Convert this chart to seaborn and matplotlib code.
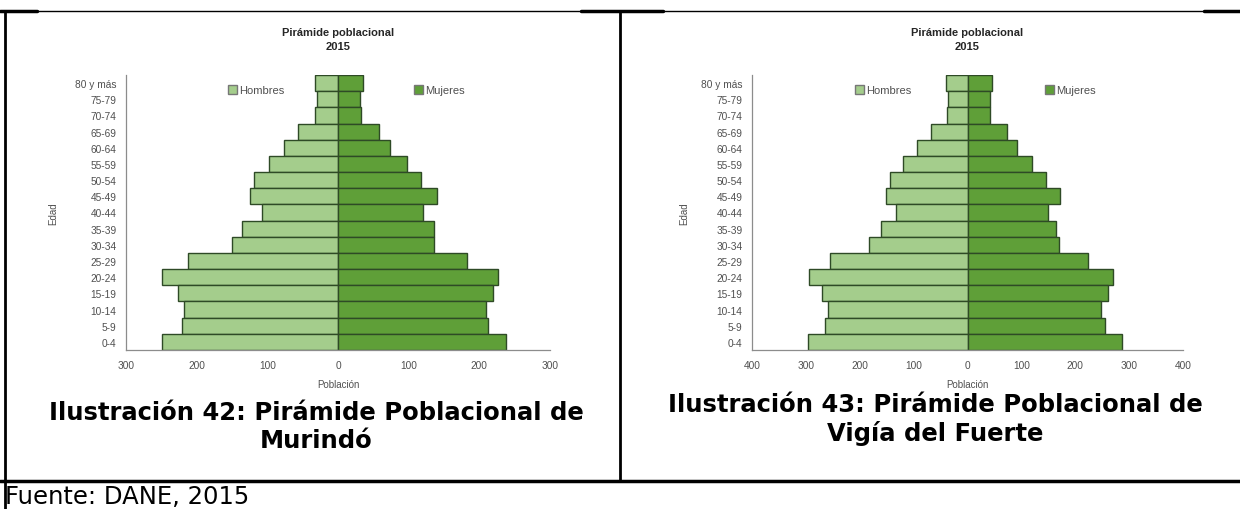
import pandas as pd
import matplotlib.pyplot as plt
import seaborn as sns
from matplotlib import font_manager
from matplotlib.lines import Line2D
from matplotlib.patches import Patch

# age groups, youngest first
EDADES = ["0-4", "5-9", "10-14", "15-19", "20-24", "25-29", "30-34", "35-39",
          "40-44", "45-49", "50-54", "55-59", "60-64", "65-69", "70-74",
          "75-79", "80 y más"]

# Murindó 2015
MURINDO_HOMBRES = [249, 221, 218, 226, 249, 212, 150, 136, 108, 125, 119, 98, 76, 56, 33, 30, 32]
MURINDO_MUJERES = [238, 212, 209, 219, 227, 183, 136, 136, 120, 140, 118, 97, 73, 58, 33, 31, 36]

# Vigía del Fuerte 2015
VIGIA_HOMBRES = [296, 265, 259, 270, 294, 256, 182, 160, 132, 152, 143, 119, 94, 68, 38, 36, 40]
VIGIA_MUJERES = [287, 255, 247, 261, 270, 223, 169, 165, 150, 172, 146, 119, 91, 73, 41, 41, 46]

X_TICKS_MURINDO = [-300, -200, -100, 0, 100, 200, 300]
X_TICKS_VIGIA = [-400, -300, -200, -100, 0, 100, 200, 300, 400]

CAPTION_MURINDO = "Ilustración 42: Pirámide Poblacional de\nMurindó"
CAPTION_VIGIA = "Ilustración 43: Pirámide Poblacional de\nVigía del Fuerte"
FUENTE = "Fuente: DANE, 2015"

C_HOMBRES = "#a4cd8c"
C_MUJERES = "#5f9f38"
C_EDGE = "#2e4a26"
C_TEXT = "#505050"

W, H = 1240, 510


def pick_font(names):
    have = {f.name for f in font_manager.fontManager.ttflist}
    for n in names:
        if n in have:
            return n
    return "DejaVu Sans"


def px(x, y):
    return x / W, 1 - y / H


def pyramid(ax, hombres, mujeres, ticks, font, ylab_x):
    df = pd.DataFrame({
        "Edad": EDADES * 2,
        "Sexo": ["Hombres"] * len(EDADES) + ["Mujeres"] * len(EDADES),
        "Población": [-v for v in hombres] + list(mujeres),
    })
    sns.barplot(data=df, x="Población", y="Edad", hue="Sexo",
                order=EDADES[::-1], dodge=False, width=1.0, saturation=1,
                palette={"Hombres": C_HOMBRES, "Mujeres": C_MUJERES},
                edgecolor=C_EDGE, linewidth=1.0, legend=False, ax=ax)
    ax.set_xlim(ticks[0], ticks[-1])
    ax.set_xticks(ticks)
    ax.set_xticklabels([str(abs(t)) for t in ticks])
    ax.tick_params(length=0, labelsize=7.3, colors=C_TEXT)
    ax.tick_params(axis="x", pad=7)
    ax.tick_params(axis="y", pad=7)
    for lab in ax.get_xticklabels() + ax.get_yticklabels():
        lab.set_fontfamily(font)
    for s in ["top", "right"]:
        ax.spines[s].set_visible(False)
    for s in ["left", "bottom"]:
        ax.spines[s].set_color("#8c8c8c")
        ax.spines[s].set_linewidth(0.9)
    ax.set_xlabel("Población", fontsize=7, color=C_TEXT, family=font, labelpad=7)
    ax.set_ylabel("Edad", fontsize=7, color=C_TEXT, family=font)
    ax.yaxis.set_label_coords(ylab_x, 0.5)
    ax.grid(False)

    leg1 = ax.legend(handles=[Patch(facecolor=C_HOMBRES, edgecolor="#777777", label="Hombres")],
                     loc="center left", bbox_to_anchor=(0.24, 0.945), frameon=False,
                     borderpad=0, borderaxespad=0, handlelength=0.8, handleheight=0.8,
                     handletextpad=0.2, prop={"family": font, "size": 8}, labelcolor=C_TEXT)
    ax.add_artist(leg1)
    ax.legend(handles=[Patch(facecolor=C_MUJERES, edgecolor="#777777", label="Mujeres")],
              loc="center left", bbox_to_anchor=(0.68, 0.945), frameon=False,
              borderpad=0, borderaxespad=0, handlelength=0.8, handleheight=0.8,
              handletextpad=0.2, prop={"family": font, "size": 8}, labelcolor=C_TEXT)


def main():
    sns.set_theme(style="white")
    plt.rcParams["font.family"] = ["DejaVu Sans"]
    narrow = pick_font(["Liberation Sans Narrow", "Liberation Sans"])

    fig = plt.figure(figsize=(W / 100, H / 100), dpi=100)
    fig.patch.set_facecolor("white")

    ax1 = fig.add_axes([126 / W, 1 - 351 / H, 424 / W, 275 / H])
    pyramid(ax1, MURINDO_HOMBRES, MURINDO_MUJERES, X_TICKS_MURINDO, narrow, -0.16)
    ax2 = fig.add_axes([752 / W, 1 - 351 / H, 431 / W, 275 / H])
    pyramid(ax2, VIGIA_HOMBRES, VIGIA_MUJERES, X_TICKS_VIGIA, narrow, -0.146)

    for cx in (338, 967):
        fig.text(*px(cx, 40), "Pirámide poblacional\n2015", ha="center", va="center",
                 fontsize=8, fontweight="bold", family=narrow, color="#262626",
                 linespacing=1.55)

    # captions
    fig.text(*px(316, 427), CAPTION_MURINDO, ha="center", va="center",
             fontsize=17.5, fontweight="bold", linespacing=1.2, color="black")
    fig.text(*px(935, 420), CAPTION_VIGIA, ha="center", va="center",
             fontsize=17.5, fontweight="bold", linespacing=1.2, color="black")
    fig.text(*px(5, 497), FUENTE, ha="left", va="center", fontsize=17.5, color="black")

    # table borders
    lines = [
        ((0, 1240), (12, 12), 1.0),
        ((0, 37), (12, 12), 2.5),
        ((581, 663), (12, 12), 2.5),
        ((1204, 1240), (12, 12), 2.5),
        ((5, 5), (12, 510), 2.0),
        ((620, 620), (12, 482), 2.0),
        ((0, 1240), (482, 482), 2.5),
    ]
    for xs, ys, lw in lines:
        fig.add_artist(Line2D([x / W for x in xs], [1 - y / H for y in ys],
                              transform=fig.transFigure, color="black", linewidth=lw))

    fig.savefig("out.png", dpi=100)


if __name__ == "__main__":
    main()
